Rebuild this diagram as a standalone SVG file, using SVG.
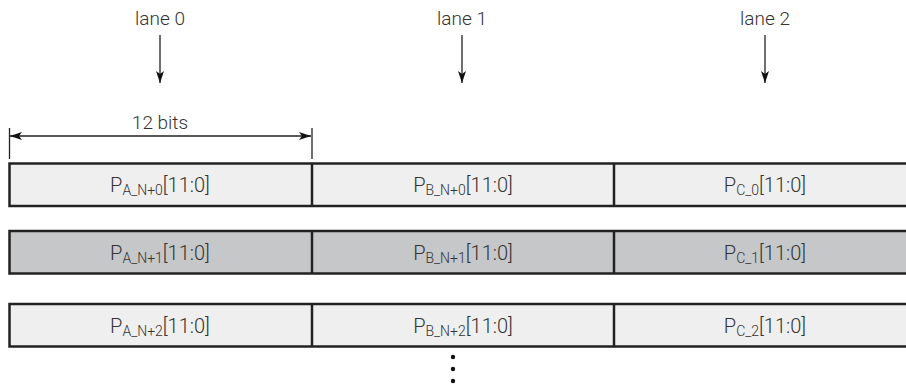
<svg xmlns="http://www.w3.org/2000/svg" width="906" height="388" viewBox="0 0 906 388">
<defs>
<style>
.t{font-family:Roboto,"Liberation Sans",sans-serif;font-weight:300;font-size:20px;fill:#333;text-anchor:middle}
.h{font-size:19px}
.s{font-size:14px}
.l{stroke:#222;stroke-width:1.3;fill:none}
.r1{fill:#efefef;stroke:#222;stroke-width:2.5}
.r2{fill:#c6c7c9;stroke:#222;stroke-width:2.5}
</style>
<marker id="ah" viewBox="0 0 12 8" refX="12" refY="4" markerWidth="12" markerHeight="8" markerUnits="userSpaceOnUse" orient="auto-start-reverse">
<path d="M0,0 L12,4 L0,8 L3,4 Z" fill="#111"/>
</marker>
</defs>
<g id="lanes">
<text class="t h" x="160" y="25">lane 0</text>
<text class="t h" x="462" y="25">lane 1</text>
<text class="t h" x="765" y="25">lane 2</text>
</g>
<g id="connectors">
<line class="l" x1="160" y1="35" x2="160" y2="83" marker-end="url(#ah)"/>
<line class="l" x1="462" y1="35" x2="462" y2="83" marker-end="url(#ah)"/>
<line class="l" x1="765" y1="35" x2="765" y2="83" marker-end="url(#ah)"/>
<line class="l" x1="9.5" y1="128" x2="9.5" y2="159"/>
<line class="l" x1="312" y1="128" x2="312" y2="159"/>
<line class="l" x1="10" y1="136" x2="311" y2="136" marker-start="url(#ah)" marker-end="url(#ah)"/>
</g>
<text class="t h" x="160" y="129">12 bits</text>
<g id="row0">
<rect class="r1" x="9.5" y="163.5" width="910" height="42.5"/>
<line class="r1" x1="312" y1="163.5" x2="312" y2="206"/>
<line class="r1" x1="614" y1="163.5" x2="614" y2="206"/>
<text class="t" x="160" y="192">P<tspan class="s" dy="3">A_N+0</tspan><tspan dy="-3">[11:0]</tspan></text>
<text class="t" x="463" y="192">P<tspan class="s" dy="3">B_N+0</tspan><tspan dy="-3">[11:0]</tspan></text>
<text class="t" x="765" y="192">P<tspan class="s" dy="3">C_0</tspan><tspan dy="-3">[11:0]</tspan></text>
</g>
<g id="row1">
<rect class="r2" x="9.5" y="231" width="910" height="42.5"/>
<line class="r2" x1="312" y1="231" x2="312" y2="273.5"/>
<line class="r2" x1="614" y1="231" x2="614" y2="273.5"/>
<text class="t" x="160" y="259.5">P<tspan class="s" dy="3">A_N+1</tspan><tspan dy="-3">[11:0]</tspan></text>
<text class="t" x="463" y="259.5">P<tspan class="s" dy="3">B_N+1</tspan><tspan dy="-3">[11:0]</tspan></text>
<text class="t" x="765" y="259.5">P<tspan class="s" dy="3">C_1</tspan><tspan dy="-3">[11:0]</tspan></text>
</g>
<g id="row2">
<rect class="r1" x="9.5" y="304" width="910" height="42.5"/>
<line class="r1" x1="312" y1="304" x2="312" y2="346.5"/>
<line class="r1" x1="614" y1="304" x2="614" y2="346.5"/>
<text class="t" x="160" y="332.5">P<tspan class="s" dy="3">A_N+2</tspan><tspan dy="-3">[11:0]</tspan></text>
<text class="t" x="463" y="332.5">P<tspan class="s" dy="3">B_N+2</tspan><tspan dy="-3">[11:0]</tspan></text>
<text class="t" x="765" y="332.5">P<tspan class="s" dy="3">C_2</tspan><tspan dy="-3">[11:0]</tspan></text>
</g>
<g id="dots" fill="#111">
<circle cx="453" cy="357" r="2.2"/>
<circle cx="453" cy="369" r="2.2"/>
<circle cx="453" cy="381" r="2.2"/>
</g>
</svg>
